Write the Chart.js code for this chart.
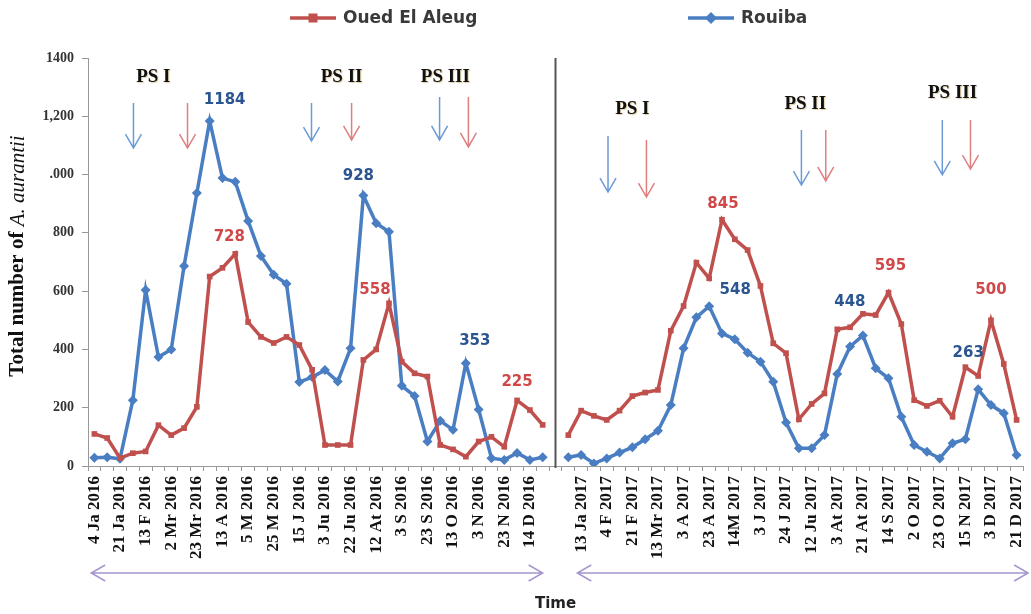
<!DOCTYPE html>
<html>
<head>
<meta charset="utf-8">
<script src="https://cdn.jsdelivr.net/npm/chart.js@4.4.0/dist/chart.umd.min.js"></script>
<style>
  html, body { margin: 0; padding: 0; background: #fff; }
</style>
</head>
<body>
<canvas id="myChart" width="1031" height="614"></canvas>
<script>
// tick labels, every other sampling date
const labels2016 = ["4 Ja 2016", "21 Ja 2016", "13 F 2016", "2 Mr 2016", "23 Mr 2016", "13 A 2016",
  "5 M 2016", "25 M 2016", "15 J 2016", "3 Ju 2016", "22 Ju 2016", "12 At 2016", "3 S 2016",
  "23 S 2016", "13 O 2016", "3 N 2016", "23 N 2016", "14 D 2016"];
const labels2017 = ["13 Ja 2017", "4 F 2017", "21 F 2017", "13 Mr 2017", "3 A 2017", "23 A 2017",
  "14M 2017", "3 J 2017", "24 J 2017", "12 Ju 2017", "3 At 2017", "21 At 2017", "14 S 2017",
  "2 O 2017", "23 O 2017", "15 N 2017", "3 D 2017", "21 D 2017"];

// Oued El Aleug (red)
const aleug2016 = [110, 96, 27, 44, 50, 140, 106, 130, 203, 650, 680, 728, 494, 443, 422, 443, 415, 330,
  72, 72, 72, 364, 400, 558, 358, 318, 307, 72, 57, 32, 84, 100, 66, 225, 192, 141];
const aleug2017 = [106, 190, 172, 158, 190, 240, 252, 261, 464, 549, 698, 644, 845, 778, 741, 618, 421, 387,
  160, 213, 249, 469, 476, 522, 518, 595, 487, 226, 206, 224, 169, 339, 309, 500, 350, 158];

// Rouiba (blue)
const rouiba2016 = [28, 30, 25, 226, 604, 374, 400, 686, 937, 1184, 988, 975, 841, 721, 656, 625, 288, 305,
  329, 290, 404, 928, 833, 804, 275, 240, 84, 155, 124, 353, 194, 27, 21, 45, 21, 30];
const rouiba2017 = [30, 38, 9, 26, 46, 64, 92, 121, 209, 404, 510, 548, 455, 435, 389, 358, 289, 149,
  61, 61, 106, 316, 410, 448, 335, 301, 169, 72, 49, 26, 78, 92, 263, 209, 181, 38];

const yTickLabels = ["0", "200", "400", "600", "800", ".000", "1,200", "1400"];

// one empty category separates the two years
const gapIndex = aleug2016.length;
const categories = []
  .concat(labels2016.flatMap(l => [l, ""]))
  .concat(["", ""])
  .concat(labels2017.flatMap((l, i) => i < labels2017.length - 1 ? [l, ""] : [l]));

const aleugAll = aleug2016.concat([null], aleug2017);
const rouibaAll = rouiba2016.concat([null], rouiba2017);

// peak labels: series, category index, text offset
const peakLabels = [
  ["b", 9, 15, -21], ["r", 11, -6, -17], ["b", 21, -5, -19], ["r", 23, -14, -13],
  ["b", 29, 9, -22], ["r", 33, 0, -18], ["r", 49, 1, -16], ["b", 48, 26, -16],
  ["b", 60, -13, -33], ["r", 62, 2, -26], ["b", 69, -10, -36], ["r", 70, 0, -30]
];

// PS annotations (category index, value)
const psTexts = [["PS I", 4.6, 1335], ["PS II", 19.3, 1335], ["PS III", 27.4, 1335],
  ["PS I", 42.0, 1225], ["PS II", 55.5, 1242], ["PS III", 67.0, 1280]];
const psArrows = [
  ["b", 3.05, 1246, 1091], ["r", 7.27, 1246, 1091], ["b", 16.95, 1246, 1115], ["r", 20.08, 1246, 1119],
  ["b", 26.95, 1266, 1119], ["r", 29.2, 1266, 1095], ["b", 40.1, 1132, 940], ["r", 43.1, 1119, 923],
  ["b", 55.2, 1153, 964], ["r", 57.1, 1153, 978], ["b", 66.2, 1187, 999], ["r", 68.4, 1187, 1019]
];
const timeSpans = [[-0.25, 35.0], [37.7, 72.9]];

const RED = "#c0504d";
const BLUE = "#4a7ec2";

function arrowDown(ctx, x, y1, y2) {
  ctx.beginPath();
  ctx.moveTo(x, y1); ctx.lineTo(x, y2);
  ctx.moveTo(x - 8, y2 - 14); ctx.lineTo(x, y2); ctx.lineTo(x + 8, y2 - 14);
  ctx.stroke();
}

const extras = {
  id: "extras",
  afterDraw(chart) {
    const {ctx, chartArea, scales: {x, y}} = chart;
    ctx.save();

    // divider between years
    const gx = x.getPixelForValue(gapIndex);
    ctx.strokeStyle = "#555";
    ctx.lineWidth = 2;
    ctx.beginPath(); ctx.moveTo(gx, chartArea.top); ctx.lineTo(gx, chartArea.bottom + 2); ctx.stroke();

    // peak value labels
    ctx.font = "bold 15px 'DejaVu Sans'";
    ctx.textAlign = "center";
    ctx.textBaseline = "middle";
    peakLabels.forEach(([s, i, dx, dy]) => {
      const v = s === "b" ? rouibaAll[i] : aleugAll[i];
      ctx.fillStyle = s === "b" ? "#2b5591" : "#d04848";
      ctx.fillText(String(v), x.getPixelForValue(i) + dx, y.getPixelForValue(v) + dy);
    });

    // PS texts and arrows
    ctx.font = "bold 19px 'Liberation Serif'";
    ctx.fillStyle = "#111";
    ctx.shadowColor = "rgba(190,150,60,0.45)";
    ctx.shadowBlur = 1;
    ctx.shadowOffsetX = 1;
    ctx.shadowOffsetY = 1;
    psTexts.forEach(([t, i, v]) => ctx.fillText(t, x.getPixelForValue(i), y.getPixelForValue(v)));
    ctx.shadowColor = "transparent";
    ctx.lineWidth = 1.5;
    psArrows.forEach(([s, i, v1, v2]) => {
      ctx.strokeStyle = s === "b" ? "#6b9bd6" : "#df7f80";
      arrowDown(ctx, x.getPixelForValue(i), y.getPixelForValue(v1), y.getPixelForValue(v2));
    });

    // double arrows under the dates
    const ay = chartArea.bottom + 107;
    ctx.strokeStyle = "#a895cf";
    ctx.lineWidth = 1.5;
    timeSpans.forEach(([a, b]) => {
      const x1 = x.getPixelForValue(a), x2 = x.getPixelForValue(b);
      ctx.beginPath();
      ctx.moveTo(x1, ay); ctx.lineTo(x2, ay);
      ctx.moveTo(x1 + 14, ay - 8); ctx.lineTo(x1, ay); ctx.lineTo(x1 + 14, ay + 8);
      ctx.moveTo(x2 - 14, ay - 8); ctx.lineTo(x2, ay); ctx.lineTo(x2 - 14, ay + 8);
      ctx.stroke();
    });

    // legend
    ctx.lineWidth = 3.5;
    ctx.textAlign = "left";
    ctx.font = "bold 17px 'DejaVu Sans'";
    [[RED, 290, "Oued El Aleug", "rect"], [BLUE, 688, "Rouiba", "diamond"]].forEach(([c, lx, t, m]) => {
      ctx.strokeStyle = c; ctx.fillStyle = c;
      ctx.beginPath(); ctx.moveTo(lx, 18); ctx.lineTo(lx + 46, 18); ctx.stroke();
      const mx = lx + 23;
      ctx.beginPath();
      if (m === "rect") ctx.rect(mx - 4.5, 13.5, 9, 9);
      else { ctx.moveTo(mx, 12); ctx.lineTo(mx + 6, 18); ctx.lineTo(mx, 24); ctx.lineTo(mx - 6, 18); ctx.closePath(); }
      ctx.fill();
      ctx.fillStyle = "#3a3a3a";
      ctx.fillText(t, lx + 53, 19);
    });

    // y axis title, with the species name in italics
    ctx.translate(18, 256);
    ctx.rotate(-Math.PI / 2);
    const p1 = "Total number of ", p2 = "A. aurantii";
    ctx.font = "bold 21px 'Liberation Serif'";
    const w1 = ctx.measureText(p1).width;
    ctx.font = "italic 21px 'Liberation Serif'";
    const w2 = ctx.measureText(p2).width;
    ctx.fillStyle = "#111";
    ctx.font = "bold 21px 'Liberation Serif'";
    ctx.fillText(p1, -(w1 + w2) / 2, 0);
    ctx.font = "italic 21px 'Liberation Serif'";
    ctx.fillText(p2, -(w1 + w2) / 2 + w1, 0);

    ctx.restore();
  }
};

new Chart("myChart", {
  type: "line",
  data: {
    labels: categories,
    datasets: [{
      label: "Oued El Aleug",
      data: aleugAll,
      borderColor: RED,
      backgroundColor: RED,
      borderWidth: 3.5,
      pointStyle: "rect",
      pointRadius: 4,
      pointBorderWidth: 0,
      tension: 0
    }, {
      label: "Rouiba",
      data: rouibaAll,
      borderColor: BLUE,
      backgroundColor: BLUE,
      borderWidth: 3.5,
      pointStyle: "rectRot",
      pointRadius: 5,
      pointBorderWidth: 0,
      tension: 0
    }]
  },
  options: {
    responsive: false,
    animation: false,
    layout: {padding: {top: 58, right: 8, left: 0, bottom: 0}},
    plugins: {legend: {display: false}, tooltip: {enabled: false}},
    scales: {
      x: {
        offset: true,
        grid: {offset: true, drawOnChartArea: false, tickLength: 5, color: "#999"},
        border: {color: "#999"},
        ticks: {
          autoSkip: false, maxRotation: 90, minRotation: 90, padding: 5,
          color: "#111", font: {family: "Liberation Serif", weight: "bold", size: 17}
        },
        title: {
          display: true, text: "Time", color: "#222",
          font: {family: "DejaVu Sans", weight: "bold", size: 15}, padding: {bottom: 1}
        },
        afterFit: s => { s.height = 148; s.paddingLeft = 0; s.paddingRight = 0; }
      },
      y: {
        min: 0, max: 1400,
        grid: {drawOnChartArea: false, tickLength: 6, color: "#999"},
        border: {color: "#999"},
        ticks: {
          stepSize: 200, padding: 8, color: "#333",
          font: {family: "Liberation Serif", weight: "bold", size: 14},
          callback: v => yTickLabels[v / 200]
        },
        afterFit: s => { s.width = 88; }
      }
    }
  },
  plugins: [extras]
});
</script>
</body>
</html>
